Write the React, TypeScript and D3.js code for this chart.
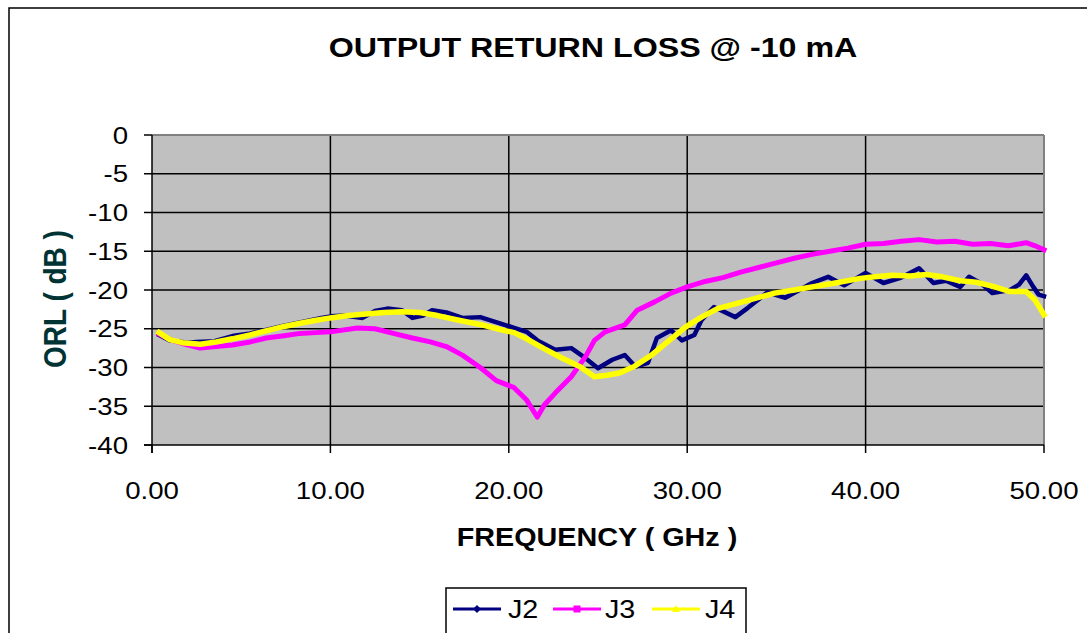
import React from "react"
import * as d3 from "d3"

// frequency (GHz) / ORL (dB)
const j2Freq = [0.4, 1, 2, 2.5, 3.5, 4.6, 5.5, 6.5, 7.4, 8.5, 9.5, 10, 10.8, 11.8, 12.5, 13.2, 14, 14.6, 15.2, 15.7, 16.5, 17.4, 18.4, 19.5, 20.3, 21, 21.6, 22.6, 23.5, 24.3, 25, 25.8, 26.5, 27.1, 27.8, 28.3, 29.1, 29.7, 30.4, 30.8, 31.5, 32.7, 33.4, 34.5, 35.5, 37, 37.9, 38.8, 40, 41, 42, 43, 43.8, 44.5, 45.3, 45.8, 46.5, 47.1, 48.1, 48.6, 49, 49.4, 49.7, 50]
const j2Val = [-25.8, -26.5, -26.8, -26.7, -26.6, -25.9, -25.6, -25.1, -24.6, -24.1, -23.6, -23.4, -23.3, -23.6, -22.7, -22.4, -22.6, -23.6, -23.3, -22.6, -22.9, -23.6, -23.5, -24.3, -24.9, -25.4, -26.5, -27.7, -27.5, -28.8, -30.1, -29.0, -28.4, -29.9, -29.4, -26.2, -25.2, -26.5, -25.8, -23.9, -22.2, -23.5, -22.3, -20.3, -21.0, -19.1, -18.3, -19.4, -17.8, -19.1, -18.4, -17.2, -19.1, -18.8, -19.6, -18.3, -19.2, -20.4, -20.0, -19.3, -18.1, -19.6, -20.6, -20.8]

const j3Freq = [0.4, 1, 1.7, 2.7, 3.6, 4.5, 5.5, 6.4, 7.4, 8.3, 9.2, 10, 11.5, 12.5, 13.7, 14.6, 15.6, 16.5, 17.4, 18.4, 19.3, 20.3, 21, 21.6, 22, 22.6, 23.5, 24.3, 24.8, 25.4, 26.5, 27.2, 28.2, 29.1, 30, 31, 32, 33, 34, 35, 36, 37, 38, 39, 40, 41, 42, 43, 44, 45, 46, 47, 48, 49, 49.5, 50]
const j3Val = [-25.7, -26.4, -26.9, -27.5, -27.3, -27.1, -26.7, -26.2, -25.9, -25.6, -25.5, -25.4, -24.9, -25.0, -25.7, -26.2, -26.7, -27.3, -28.4, -30.0, -31.7, -32.6, -34.2, -36.4, -34.8, -33.3, -31.2, -28.6, -26.5, -25.4, -24.5, -22.6, -21.5, -20.4, -19.6, -18.9, -18.4, -17.7, -17.1, -16.5, -15.9, -15.4, -15.0, -14.6, -14.1, -14.0, -13.7, -13.5, -13.8, -13.7, -14.1, -14.0, -14.3, -13.9, -14.3, -14.8]

const j4Freq = [0.4, 1, 1.7, 2.7, 3.6, 4.5, 5.5, 6.5, 7.4, 8.3, 9.2, 10, 11, 12, 13, 14, 15, 16, 17.4, 18.5, 19.5, 20.3, 21, 22, 23, 24, 24.8, 25.5, 26.2, 27, 28, 29, 29.9, 30.8, 31.7, 33, 34.9, 36, 37, 38.3, 39.7, 40.5, 41.5, 42.5, 43.4, 44.3, 45.3, 46.2, 47.1, 48.1, 49, 49.5, 50]
const j4Val = [-25.5, -26.4, -26.8, -27.0, -26.7, -26.3, -25.8, -25.2, -24.7, -24.3, -23.9, -23.6, -23.3, -23.1, -22.9, -22.8, -22.9, -23.3, -24.0, -24.5, -25.1, -25.5, -26.3, -27.6, -28.8, -29.9, -31.2, -31.0, -30.7, -29.9, -28.4, -26.5, -24.8, -23.5, -22.4, -21.6, -20.4, -20.0, -19.6, -19.1, -18.5, -18.3, -18.1, -18.2, -18.0, -18.3, -18.8, -19.0, -19.5, -20.2, -20.2, -21.3, -23.2]

const xTicks = [0, 10, 20, 30, 40, 50]
const yTicks = [0, -5, -10, -15, -20, -25, -30, -35, -40]

const series = [
    {name: "J2", freq: j2Freq, val: j2Val, color: "#000080", width: 4.5, marker: "diamond"},
    {name: "J3", freq: j3Freq, val: j3Val, color: "#FF00FF", width: 5, marker: "square"},
    {name: "J4", freq: j4Freq, val: j4Val, color: "#FFFF00", width: 5.5, marker: "triangle"},
]

const FONT = "Arial, 'Liberation Sans', sans-serif"
const SX = 1.15 // horizontal stretch of the reference text

const plot = {left: 152, right: 1044, top: 135, bottom: 445}

const App = () => {
    const xScale = d3.scaleLinear().domain([0, 50]).range([plot.left, plot.right])
    const yScale = d3.scaleLinear().domain([-40, 0]).range([plot.bottom, plot.top])

    const makePath = (freq: number[], val: number[]) =>
        d3.line<[number, number]>()
            .x(d => xScale(d[0]))
            .y(d => yScale(d[1]))(freq.map((f, i) => [f, val[i]]))

    const marker = (type: string, x: number, y: number, color: string) => {
        if (type === "diamond") return <path d={`M${x},${y - 4}L${x + 4},${y}L${x},${y + 4}L${x - 4},${y}Z`} fill={color}/>
        if (type === "square") return <rect x={x - 3.5} y={y - 3.5} width={7} height={7} fill={color}/>
        return <path d={`M${x},${y - 4}L${x + 4},${y + 3}L${x - 4},${y + 3}Z`} fill={color}/>
    }

    const legendItems = [
        {lx: 453, tx: 508},
        {lx: 553, tx: 605},
        {lx: 652, tx: 705},
    ]

    return (
        <svg width={1087} height={633} style={{position: "absolute", left: 0, top: 0}} fontFamily={FONT}>
            <rect x={0} y={0} width={1087} height={633} fill="#fff"/>
            <rect x={9} y={8} width={1100} height={660} fill="none" stroke="#000" strokeWidth={1.5}/>

            <text transform={`translate(593,57) scale(${SX},1)`} textAnchor="middle" fontSize={28} fontWeight="bold" fill="#000">
                OUTPUT RETURN LOSS @ -10 mA
            </text>

            {/* plot area */}
            <rect x={plot.left} y={plot.top} width={plot.right - plot.left} height={plot.bottom - plot.top} fill="#C0C0C0"/>
            {yTicks.filter(t => t !== -40 && t !== 0).map(t => (
                <line key={"gy" + t} x1={plot.left} x2={plot.right} y1={yScale(t)} y2={yScale(t)} stroke="#000" strokeWidth={1.5}/>
            ))}
            {xTicks.filter(t => t !== 0 && t !== 50).map(t => (
                <line key={"gx" + t} x1={xScale(t)} x2={xScale(t)} y1={plot.top} y2={plot.bottom} stroke="#000" strokeWidth={1.5}/>
            ))}
            <line x1={plot.left} x2={plot.right} y1={plot.top} y2={plot.top} stroke="#808080" strokeWidth={2}/>
            <line x1={plot.right} x2={plot.right} y1={plot.top} y2={plot.bottom} stroke="#808080" strokeWidth={2}/>

            {series.map(s => (
                <path key={s.name} d={makePath(s.freq, s.val) || ""} fill="none" stroke={s.color}
                      strokeWidth={s.width} strokeLinejoin="round" strokeLinecap="square"/>
            ))}

            {/* axes */}
            <line x1={plot.left} x2={plot.left} y1={plot.top} y2={plot.bottom + 8} stroke="#000" strokeWidth={1.5}/>
            <line x1={plot.left - 8} x2={plot.right} y1={plot.bottom} y2={plot.bottom} stroke="#000" strokeWidth={1.5}/>
            {yTicks.map(t => (
                <g key={"yt" + t}>
                    <line x1={plot.left - 8} x2={plot.left} y1={yScale(t)} y2={yScale(t)} stroke="#000" strokeWidth={1.5}/>
                    <text transform={`translate(128,${yScale(t) + 8.5}) scale(${SX},1)`} textAnchor="end" fontSize={24} fill="#000">{t}</text>
                </g>
            ))}
            {xTicks.map(t => (
                <g key={"xt" + t}>
                    <line x1={xScale(t)} x2={xScale(t)} y1={plot.bottom} y2={plot.bottom + 8} stroke="#000" strokeWidth={1.5}/>
                    <text transform={`translate(${xScale(t)},499) scale(${SX},1)`} textAnchor="middle" fontSize={24} fill="#000">{t.toFixed(2)}</text>
                </g>
            ))}

            <text transform={`translate(597,546) scale(${SX},1)`} textAnchor="middle" fontSize={25} fontWeight="bold" fill="#000">
                FREQUENCY ( GHz )
            </text>
            <text transform={`translate(66,299) scale(${SX},1) rotate(-90)`} textAnchor="middle" fontSize={28} fontWeight="bold" fill="#003333">
                ORL ( dB )
            </text>

            {/* legend */}
            <rect x={446} y={588} width={300} height={46} fill="#fff" stroke="#000" strokeWidth={1.5}/>
            {series.map((s, i) => (
                <g key={"lg" + s.name}>
                    <line x1={legendItems[i].lx} x2={legendItems[i].lx + 48} y1={609} y2={609} stroke={s.color} strokeWidth={3}/>
                    {marker(s.marker, legendItems[i].lx + 24, 609, s.color)}
                    <text transform={`translate(${legendItems[i].tx},618) scale(${SX},1)`} fontSize={25} fill="#000">{s.name}</text>
                </g>
            ))}
        </svg>
    )
}

export default App
